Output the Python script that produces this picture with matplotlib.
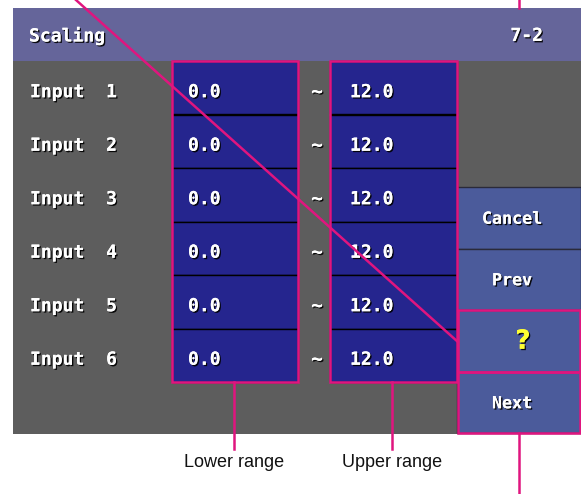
import matplotlib
matplotlib.use('Agg')
import matplotlib.pyplot as plt
import matplotlib.patheffects as pe
from matplotlib.patches import Rectangle

# screen content
title = 'Scaling'
page = '7-2'
inputs = ['Input  1', 'Input  2', 'Input  3', 'Input  4', 'Input  5', 'Input  6']
lower = [0.0, 0.0, 0.0, 0.0, 0.0, 0.0]
upper = [12.0, 12.0, 12.0, 12.0, 12.0, 12.0]
buttons = ['Cancel', 'Prev', '?', 'Next']
callouts = ['Lower range', 'Upper range']

# colours
header_col = '#65659a'
gray_col = '#5d5d5d'
cell_col = '#25258e'
button_col = '#4b5b9b'
mag = '#e0157f'

fig = plt.figure(figsize=(5.81, 4.94), dpi=100)
ax = fig.add_axes([0, 0, 1, 1])
ax.set_xlim(0, 581)
ax.set_ylim(494, 0)
ax.axis('off')

shadow = [pe.withSimplePatchShadow(offset=(1, -1), shadow_rgbFace='black', alpha=0.9), pe.Normal()]
mono = dict(family='DejaVu Sans Mono', fontweight='bold', color='white', path_effects=shadow)

# screen background and header
ax.add_patch(Rectangle((13, 8), 581 - 13, 434 - 8, color=gray_col, lw=0))
ax.add_patch(Rectangle((13, 8), 581 - 13, 61 - 8, color=header_col, lw=0))
ax.text(29, 36, title, fontsize=13, va='center', ha='left', **mono)
ax.text(543, 36, page, fontsize=13, va='center', ha='right', **mono)

# rows
top, row_h = 61, (382 - 61) / len(inputs)
for i, name in enumerate(inputs):
    y0 = top + i * row_h
    yc = y0 + row_h / 2 + 4.5
    ax.text(30, yc, name, fontsize=13, va='center', ha='left', **mono)
    ax.add_patch(Rectangle((172, y0), 126, row_h, facecolor=cell_col, edgecolor='black', lw=1))
    ax.add_patch(Rectangle((330, y0), 127, row_h, facecolor=cell_col, edgecolor='black', lw=1))
    ax.text(188, yc, f'{lower[i]:.1f}', fontsize=13, va='center', ha='left', **mono)
    ax.text(350, yc, f'{upper[i]:.1f}', fontsize=13, va='center', ha='left', **mono)
    ax.text(317, yc, '~', fontsize=14, va='center', ha='center', **mono)

# range outlines
ax.add_patch(Rectangle((172, 61), 126, 382 - 61, fill=False, edgecolor=mag, lw=1.8, zorder=5))
ax.add_patch(Rectangle((330, 61), 127, 382 - 61, fill=False, edgecolor=mag, lw=1.8, zorder=5))

# buttons
btn_top, btn_h = 187, 61.5
for j, lab in enumerate(buttons):
    y0 = btn_top + j * btn_h
    ax.add_patch(Rectangle((457, y0), 581 - 457, btn_h, facecolor=button_col, edgecolor='#2a2a3a', lw=1))
    if lab == '?':
        ax.text(523, y0 + btn_h / 2 + 1, lab, fontsize=19, va='center', ha='center', fontweight='bold',
                family='DejaVu Sans', color='#ffff33', path_effects=shadow)
    else:
        ax.text(512, y0 + btn_h / 2 + 1, lab, fontsize=12, va='center', ha='center', **mono)
for j in (2, 3):
    y0 = btn_top + j * btn_h
    ax.add_patch(Rectangle((458, y0), 580 - 458, btn_h, fill=False, edgecolor=mag, lw=1.8, zorder=5))

# leader lines
ax.plot([76, 458], [0, 342], color=mag, lw=1.8, zorder=6)
ax.plot([519, 519], [0, 8], color=mag, lw=1.8)
ax.plot([519, 519], [433, 494], color=mag, lw=1.8)
ax.plot([234, 234], [382, 449], color=mag, lw=1.8)
ax.plot([392, 392], [382, 449], color=mag, lw=1.8)
ax.text(234, 462, callouts[0], fontsize=13, family='Liberation Sans', ha='center', va='center', color='#111111')
ax.text(392, 462, callouts[1], fontsize=13, family='Liberation Sans', ha='center', va='center', color='#111111')

fig.savefig('out.png', dpi=100)
